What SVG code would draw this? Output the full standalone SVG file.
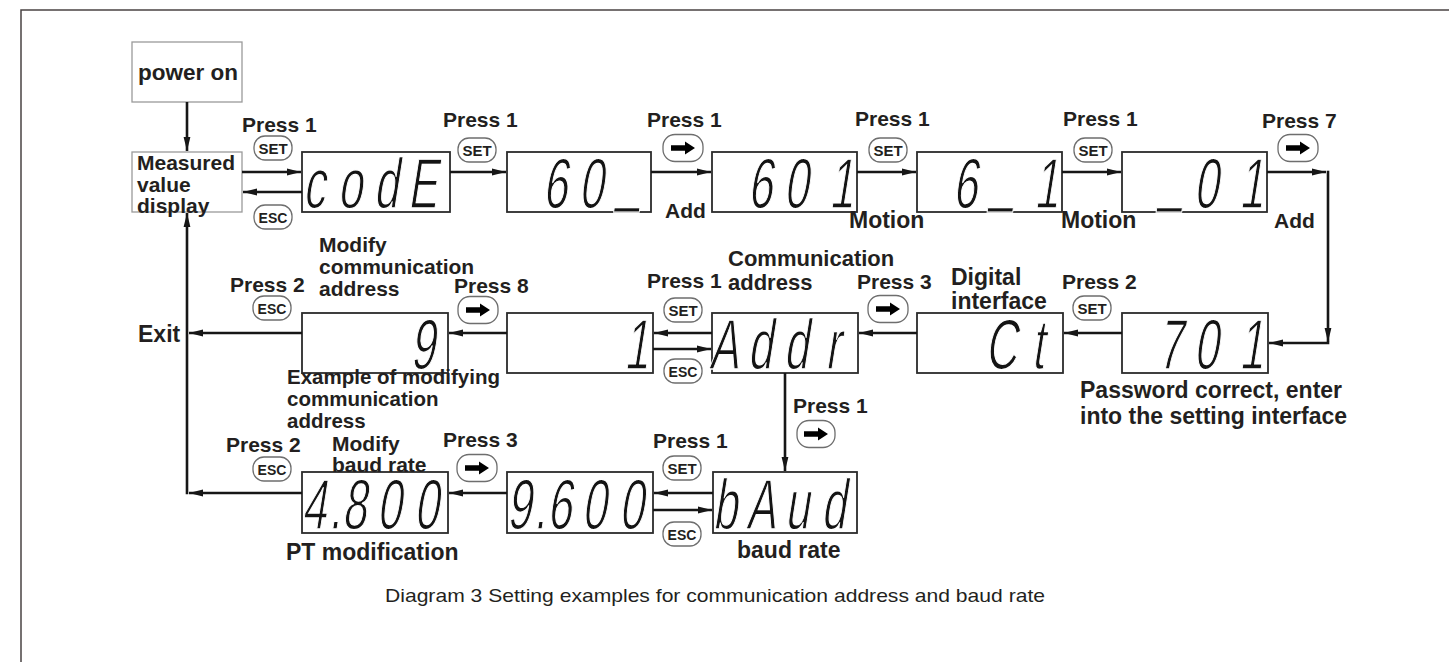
<svg xmlns="http://www.w3.org/2000/svg" width="1449" height="662" viewBox="0 0 1449 662">
<style>
  .frame{fill:none;stroke:#4a4343;stroke-width:1.5}
  .lbox{fill:#fff;stroke:#9a9a9a;stroke-width:1.3}
  .disp{fill:#fff;stroke:#2b2b2b;stroke-width:1.8}
  .lb{font-family:"Liberation Sans",Arial,sans-serif;font-weight:bold;font-size:21px;fill:#231f20}
  .lg{font-family:"Liberation Sans",Arial,sans-serif;font-weight:bold;font-size:23px;fill:#231f20}
  .seg{font-family:"Liberation Sans",Arial,sans-serif;font-size:71px;fill:#141414;stroke:#fff;stroke-width:1.4px;text-anchor:middle}
  .conn path{fill:none;stroke:#161616;stroke-width:2.6}
  .badge rect{fill:#fff;stroke:#6e6e6e;stroke-width:1.3}
  .badge text{font-family:"Liberation Sans",Arial,sans-serif;font-weight:bold;font-size:15px;fill:#231f20;text-anchor:middle}
  .badge polygon{fill:#141414}
  .cap{font-family:"Liberation Sans",Arial,sans-serif;font-size:19px;fill:#231f20}
</style>
<defs>
  <marker id="ah" markerUnits="userSpaceOnUse" markerWidth="15" markerHeight="8" refX="14" refY="4" orient="auto">
    <path d="M0,0.6 L14,4 L0,7.4 z" fill="#161616"/>
  </marker>
  <g id="arrowIcon"><polygon points="-12,-2.8 2,-2.8 2,-6.5 12,0 2,6.5 2,2.8 -12,2.8"/></g>
</defs>
<rect width="1449" height="662" fill="#fff"/>
<path class="frame" d="M21,662 V10 H1449"/>

<!-- start nodes -->
<g id="n-poweron">
  <rect class="lbox" x="132" y="42" width="110" height="60"/>
  <text class="lb" x="138" y="80" style="font-size:22.5px">power on</text>
</g>
<g id="n-measured">
  <rect class="lbox" x="132" y="152" width="110" height="60"/>
  <text class="lb" x="137" y="170">Measured</text>
  <text class="lb" x="137" y="192">value</text>
  <text class="lb" x="137" y="213">display</text>
</g>

<!-- row 1 displays -->
<g id="n-code">
  <rect class="disp" x="302" y="152" width="148" height="60"/>
  <text class="seg" transform="translate(302,208) skewX(-9) scale(0.62,1)" x="19 77 135 194" y="0">codE</text>
</g>
<g id="n-60">
  <rect class="disp" x="507" y="152" width="144" height="60"/>
  <text class="seg" transform="translate(507,208) skewX(-9) scale(0.62,1)" x="77 135 194" y="0 0 -10">60_</text>
</g>
<g id="n-601">
  <rect class="disp" x="712" y="152" width="145" height="60"/>
  <text class="seg" transform="translate(712,208) skewX(-9) scale(0.62,1)" x="77 135 208" y="0">601</text>
</g>
<g id="n-6_1">
  <rect class="disp" x="917" y="152" width="145" height="60"/>
  <text class="seg" transform="translate(917,208) skewX(-9) scale(0.62,1)" x="77 135 208" y="0 -10 0">6_1</text>
</g>
<g id="n-_01">
  <rect class="disp" x="1122" y="152" width="145" height="60"/>
  <text class="seg" transform="translate(1122,208) skewX(-9) scale(0.62,1)" x="77 135 208" y="-10 0 0">_01</text>
</g>

<!-- row 2 displays -->
<g id="n-701">
  <rect class="disp" x="1122" y="313" width="146" height="60"/>
  <text class="seg" transform="translate(1122,369) skewX(-9) scale(0.62,1)" x="77 135 208" y="0">701</text>
</g>
<g id="n-ct">
  <rect class="disp" x="917" y="313" width="146" height="60"/>
  <text class="seg" transform="translate(917,369) skewX(-9) scale(0.62,1)" x="135 194" y="0">Ct</text>
</g>
<g id="n-addr">
  <rect class="disp" x="712" y="313" width="146" height="60"/>
  <text class="seg" transform="translate(712,369) skewX(-9) scale(0.62,1)" x="19 77 135 194" y="0">Addr</text>
</g>
<g id="n-1">
  <rect class="disp" x="507" y="313" width="146" height="60"/>
  <text class="seg" transform="translate(507,369) skewX(-9) scale(0.62,1)" x="208" y="0">1</text>
</g>
<g id="n-9">
  <rect class="disp" x="302" y="313" width="146" height="60"/>
  <text class="seg" transform="translate(302,369) skewX(-9) scale(0.62,1)" x="194" y="0">9</text>
</g>

<!-- row 3 displays -->
<g id="n-baud">
  <rect class="disp" x="713" y="472" width="144" height="61"/>
  <text class="seg" transform="translate(713,529) skewX(-9) scale(0.62,1)" x="19 77 135 194" y="0">bAud</text>
</g>
<g id="n-9600">
  <rect class="disp" x="507" y="472" width="146" height="61"/>
  <text class="seg" transform="translate(507,529) skewX(-9) scale(0.62,1)" x="19 53 84 140 200" y="0">9.600</text>
</g>
<g id="n-4800">
  <rect class="disp" x="302" y="472" width="146" height="61"/>
  <text class="seg" transform="translate(302,529) skewX(-9) scale(0.62,1)" x="19 53 84 140 200" y="0">4.800</text>
</g>

<!-- connectors -->
<g id="connectors" class="conn">
  <path d="M187,102 V151" marker-end="url(#ah)"/>
  <path d="M242,172 H301" marker-end="url(#ah)"/>
  <path d="M302,192 H243" marker-end="url(#ah)"/>
  <path d="M450,172 H506" marker-end="url(#ah)"/>
  <path d="M651,172 H711" marker-end="url(#ah)"/>
  <path d="M857,172 H916" marker-end="url(#ah)"/>
  <path d="M1062,172 H1121" marker-end="url(#ah)"/>
  <path d="M1267,172 H1326" marker-end="url(#ah)"/>
  <path d="M1328,170.7 V342" marker-end="url(#ah)"/>
  <path d="M1329.3,343 H1269" marker-end="url(#ah)"/>
  <path d="M1122,333 H1064" marker-end="url(#ah)"/>
  <path d="M917,333 H859" marker-end="url(#ah)"/>
  <path d="M712,333 H654" marker-end="url(#ah)"/>
  <path d="M653,349 H711" marker-end="url(#ah)"/>
  <path d="M507,333 H449" marker-end="url(#ah)"/>
  <path d="M302,333 H189" marker-end="url(#ah)"/>
  <path d="M785,373 V471" marker-end="url(#ah)"/>
  <path d="M713,493 H654" marker-end="url(#ah)"/>
  <path d="M653,510 H712" marker-end="url(#ah)"/>
  <path d="M507,493 H449" marker-end="url(#ah)"/>
  <path d="M302,493 H189" marker-end="url(#ah)"/>
  <path d="M187,494.3 V213" marker-end="url(#ah)"/>
</g>

<!-- key badges -->
<g id="badges" class="badge">
  <g transform="translate(273,148)"><rect x="-19" y="-12" width="38" height="24" rx="11"/><text y="5.5">SET</text></g>
  <g transform="translate(273,217)"><rect x="-19" y="-12" width="38" height="24" rx="11"/><text y="5.5" style="font-size:14px">ESC</text></g>
  <g transform="translate(477,150)"><rect x="-19" y="-12" width="38" height="24" rx="11"/><text y="5.5">SET</text></g>
  <g transform="translate(683,148)"><rect x="-20" y="-13.5" width="40" height="27" rx="12"/><use href="#arrowIcon"/></g>
  <g transform="translate(888,150)"><rect x="-19" y="-12" width="38" height="24" rx="11"/><text y="5.5">SET</text></g>
  <g transform="translate(1093,150)"><rect x="-19" y="-12" width="38" height="24" rx="11"/><text y="5.5">SET</text></g>
  <g transform="translate(1298,148)"><rect x="-20" y="-13.5" width="40" height="27" rx="12"/><use href="#arrowIcon"/></g>

  <g transform="translate(1092,308)"><rect x="-19" y="-12" width="38" height="24" rx="11"/><text y="5.5">SET</text></g>
  <g transform="translate(888,309)"><rect x="-20" y="-13.5" width="40" height="27" rx="12"/><use href="#arrowIcon"/></g>
  <g transform="translate(683,310)"><rect x="-19" y="-12" width="38" height="24" rx="11"/><text y="5.5">SET</text></g>
  <g transform="translate(683,371)"><rect x="-19" y="-12" width="38" height="24" rx="11"/><text y="5.5" style="font-size:14px">ESC</text></g>
  <g transform="translate(478,310)"><rect x="-20" y="-13.5" width="40" height="27" rx="12"/><use href="#arrowIcon"/></g>
  <g transform="translate(272,308)"><rect x="-19" y="-12" width="38" height="24" rx="11"/><text y="5.5" style="font-size:14px">ESC</text></g>
  <g transform="translate(816,434)"><rect x="-19" y="-13.5" width="38" height="27" rx="12"/><use href="#arrowIcon"/></g>

  <g transform="translate(682,468)"><rect x="-19" y="-12" width="38" height="24" rx="11"/><text y="5.5">SET</text></g>
  <g transform="translate(682,534)"><rect x="-19" y="-12" width="38" height="24" rx="11"/><text y="5.5" style="font-size:14px">ESC</text></g>
  <g transform="translate(477,468)"><rect x="-20" y="-13.5" width="40" height="27" rx="12"/><use href="#arrowIcon"/></g>
  <g transform="translate(272,469)"><rect x="-19" y="-12" width="38" height="24" rx="11"/><text y="5.5" style="font-size:14px">ESC</text></g>
</g>

<!-- labels -->
<g id="labels">
  <text class="lb" x="242" y="132">Press 1</text>
  <text class="lb" x="443" y="127">Press 1</text>
  <text class="lb" x="647" y="127">Press 1</text>
  <text class="lb" x="855" y="126">Press 1</text>
  <text class="lb" x="1063" y="126">Press 1</text>
  <text class="lb" x="1262" y="128">Press 7</text>
  <text class="lb" x="665" y="218">Add</text>
  <text class="lg" x="849" y="228">Motion</text>
  <text class="lg" x="1061" y="228">Motion</text>
  <text class="lb" x="1274" y="228">Add</text>

  <text class="lb" x="319" y="252">Modify</text>
  <text class="lb" x="319" y="274">communication</text>
  <text class="lb" x="319" y="296">address</text>
  <text class="lb" x="230" y="292">Press 2</text>
  <text class="lg" x="138" y="342">Exit</text>
  <text class="lb" x="454" y="293">Press 8</text>
  <text class="lb" x="287" y="384" style="font-size:20.5px">Example of modifying</text>
  <text class="lb" x="287" y="406" style="font-size:20.5px">communication</text>
  <text class="lb" x="287" y="428" style="font-size:20.5px">address</text>
  <text class="lb" x="647" y="288">Press 1</text>
  <text class="lb" x="728" y="266" style="font-size:22px">Communication</text>
  <text class="lb" x="728" y="290" style="font-size:22px">address</text>
  <text class="lb" x="857" y="289">Press 3</text>
  <text class="lg" x="951" y="285">Digital</text>
  <text class="lg" x="951" y="309">interface</text>
  <text class="lb" x="1062" y="289">Press 2</text>
  <text class="lg" x="1080" y="398">Password correct, enter</text>
  <text class="lg" x="1080" y="424">into the setting interface</text>
  <text class="lb" x="793" y="413">Press 1</text>

  <text class="lb" x="226" y="452">Press 2</text>
  <text class="lb" x="332" y="451">Modify</text>
  <text class="lb" x="332" y="472">baud rate</text>
  <text class="lb" x="443" y="447">Press 3</text>
  <text class="lb" x="653" y="448">Press 1</text>
  <text class="lg" x="286" y="560">PT modification</text>
  <text class="lg" x="737" y="558">baud rate</text>

  <text class="cap" x="715" y="602" text-anchor="middle" textLength="660" lengthAdjust="spacingAndGlyphs">Diagram 3 Setting examples for communication address and baud rate</text>
</g>
</svg>
